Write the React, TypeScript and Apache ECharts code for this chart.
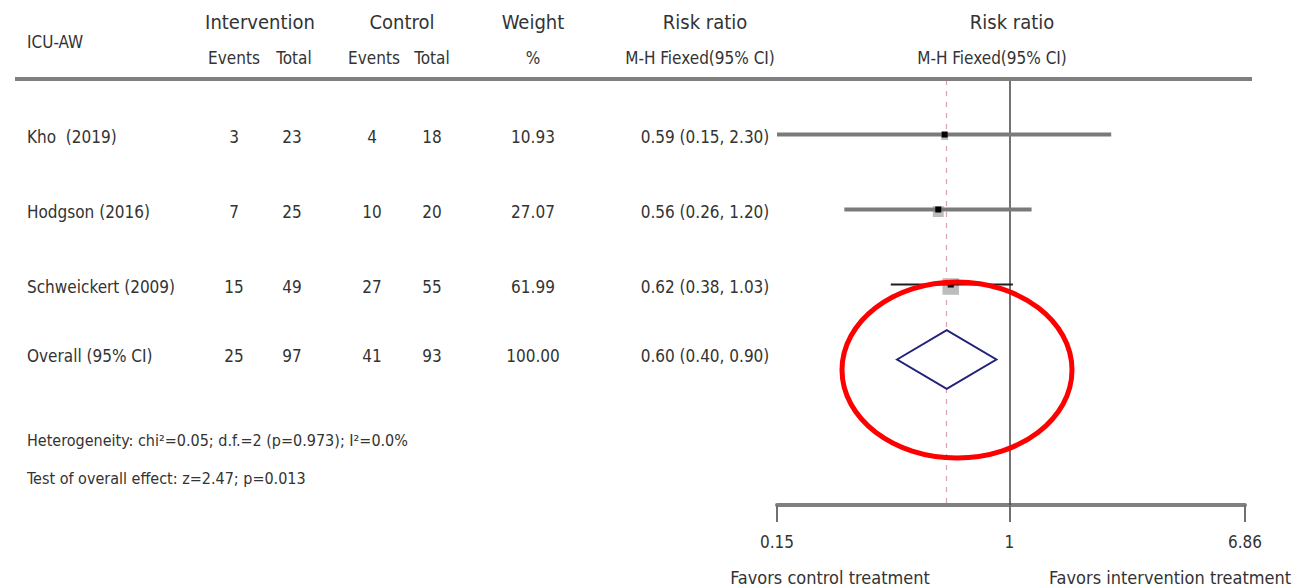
import React, { useEffect, useRef } from "react";
import * as echarts from "echarts";

// ---------- data ----------
const studies = ["Kho  (2019)", "Hodgson (2016)", "Schweickert (2009)"];
const intEvents = [3, 7, 15];
const intTotal = [23, 25, 49];
const ctrlEvents = [4, 10, 27];
const ctrlTotal = [18, 20, 55];
const weights = [10.93, 27.07, 61.99];
const riskRatio = [0.59, 0.56, 0.62];
const ciLower = [0.15, 0.26, 0.38];
const ciUpper = [2.3, 1.2, 1.03];

const overallLabel = "Overall (95% CI)";
const overallIntEvents = 25;
const overallIntTotal = 97;
const overallCtrlEvents = 41;
const overallCtrlTotal = 93;
const overallWeight = 100.0;
const overallRR = 0.6;
const overallLower = 0.4;
const overallUpper = 0.9;

const xTicks = [0.15, 1, 6.86];
const xTickLabels = ["0.15", "1", "6.86"];

const heterogeneityText = "Heterogeneity: chi²=0.05; d.f.=2 (p=0.973); I²=0.0%";
const overallEffectText = "Test of overall effect: z=2.47; p=0.013";
const favorsLeft = "Favors control treatment";
const favorsRight = "Favors intervention treatment";

// ---------- styles / layout ----------
const FONT = "'Liberation Sans Narrow', 'Arial Narrow', 'DejaVu Sans Condensed', 'Liberation Sans', sans-serif";
const TXT = "#333333";
const ciLineColors = ["#7a7a7a", "#7a7a7a", "#1e1e1e"];
const ciLineWidths = [4, 4, 2];
const colX = [234, 292, 372, 432, 533, 705];

function fmt2(v: number) {
  return v.toFixed(2);
}

export default function App() {
  const ref = useRef<HTMLDivElement>(null);

  useEffect(() => {
    document.body.style.margin = "0";
    if (!ref.current) return;
    const chart = echarts.init(ref.current, null, { renderer: "svg" });

    const tableRows = studies.map((s, i) => [
      s,
      String(intEvents[i]),
      String(intTotal[i]),
      String(ctrlEvents[i]),
      String(ctrlTotal[i]),
      fmt2(weights[i]),
      `${fmt2(riskRatio[i])} (${fmt2(ciLower[i])}, ${fmt2(ciUpper[i])})`,
    ]);
    tableRows.push([
      overallLabel,
      String(overallIntEvents),
      String(overallIntTotal),
      String(overallCtrlEvents),
      String(overallCtrlTotal),
      fmt2(overallWeight),
      `${fmt2(overallRR)} (${fmt2(overallLower)}, ${fmt2(overallUpper)})`,
    ]);

    const tableData = tableRows.map((r, i) => ({ value: [1, i + 1], cells: r }));
    const ciData = studies.map((_, i) => [ciLower[i], ciUpper[i], riskRatio[i], weights[i], i + 1]);
    const diamondData = [[overallLower, overallUpper, overallRR, studies.length + 1]];

    const textStyle = (size: number) => ({
      fontFamily: FONT,
      fontSize: size,
      fill: TXT,
    });

    const headerTexts: any[] = [
      { t: "ICU-AW", x: 27, y: 42, a: "left", s: 17 },
      { t: "Intervention", x: 260, y: 22, a: "center", s: 20 },
      { t: "Control", x: 402, y: 22, a: "center", s: 20 },
      { t: "Weight", x: 533, y: 22, a: "center", s: 20 },
      { t: "Risk ratio", x: 705, y: 22, a: "center", s: 20 },
      { t: "Risk ratio", x: 1012, y: 22, a: "center", s: 20 },
      { t: "Events", x: 234, y: 58, a: "center", s: 17 },
      { t: "Total", x: 294, y: 58, a: "center", s: 17 },
      { t: "Events", x: 374, y: 58, a: "center", s: 17 },
      { t: "Total", x: 432, y: 58, a: "center", s: 17 },
      { t: "%", x: 533, y: 58, a: "center", s: 17 },
      { t: "M-H Fiexed(95% CI)", x: 700, y: 58, a: "center", s: 17 },
      { t: "M-H Fiexed(95% CI)", x: 992, y: 58, a: "center", s: 17 },
      { t: heterogeneityText, x: 27, y: 440, a: "left", s: 16 },
      { t: overallEffectText, x: 27, y: 478, a: "left", s: 16 },
      { t: favorsLeft, x: 830, y: 577, a: "center", s: 18 },
      { t: favorsRight, x: 1170, y: 577, a: "center", s: 18 },
    ].map((h) => ({
      type: "text",
      x: h.x,
      y: h.y,
      style: { ...textStyle(h.s), text: h.t, textAlign: h.a, textVerticalAlign: "middle" },
    }));

    const option: any = {
      animation: false,
      backgroundColor: "#ffffff",
      grid: { left: 777, right: 54, top: 80, bottom: 81, containLabel: false },
      xAxis: {
        type: "log",
        logBase: 10,
        min: 0.15,
        max: 6.86,
        position: "bottom",
        splitLine: { show: false },
        axisLine: { show: true, lineStyle: { color: "#808080", width: 4 } },
        axisTick: {
          show: true,
          customValues: xTicks,
          length: 17,
          lineStyle: { color: "#707070", width: 2 },
        },
        axisLabel: {
          show: true,
          customValues: xTicks,
          margin: 28,
          fontFamily: FONT,
          fontSize: 17,
          color: TXT,
          formatter: (v: number) => {
            let best = 0;
            xTicks.forEach((t, i) => {
              if (Math.abs(t - v) < Math.abs(xTicks[best] - v)) best = i;
            });
            return xTickLabels[best];
          },
        },
      },
      yAxis: {
        type: "value",
        inverse: true,
        min: 0.273,
        max: 5.94,
        show: false,
      },
      graphic: [
        {
          type: "line",
          shape: { x1: 15, y1: 79, x2: 1252, y2: 79 },
          style: { stroke: "#808080", lineWidth: 4 },
          z: 10,
        },
        ...headerTexts,
        {
          type: "ellipse",
          shape: { cx: 957, cy: 370, rx: 115, ry: 88 },
          style: { stroke: "#ff0000", lineWidth: 5, fill: "none" },
          z: 100,
        },
      ],
      series: [
        {
          type: "custom",
          name: "table",
          silent: true,
          clip: false,
          data: tableData,
          renderItem: (params: any, api: any) => {
            const row = api.value(1);
            const y = api.coord([1, row])[1] + (row === studies.length + 1 ? -4 : 2);
            const cells = tableRows[params.dataIndex];
            const children: any[] = [
              {
                type: "text",
                x: 27,
                y,
                style: { ...textStyle(17), text: cells[0], textAlign: "left", textVerticalAlign: "middle" },
              },
            ];
            for (let c = 1; c < cells.length; c++) {
              children.push({
                type: "text",
                x: colX[c - 1],
                y,
                style: { ...textStyle(17), text: cells[c], textAlign: "center", textVerticalAlign: "middle" },
              });
            }
            return { type: "group", children };
          },
        },
        {
          type: "custom",
          name: "studies",
          silent: true,
          clip: false,
          data: ciData,
          renderItem: (params: any, api: any) => {
            const i = params.dataIndex;
            const row = api.value(4);
            const p0 = api.coord([api.value(0), row]);
            const p1 = api.coord([api.value(1), row]);
            const pc = api.coord([api.value(2), row]);
            const box = Math.sqrt(api.value(3)) * 2.1;
            return {
              type: "group",
              children: [
                {
                  type: "rect",
                  shape: { x: pc[0] - box / 2, y: pc[1] - box / 2 + 2, width: box, height: box },
                  style: { fill: "#bdbdbd" },
                },
                {
                  type: "line",
                  shape: { x1: p0[0], y1: p0[1], x2: p1[0], y2: p1[1] },
                  style: { stroke: ciLineColors[i], lineWidth: ciLineWidths[i] },
                },
                {
                  type: "rect",
                  shape: { x: pc[0] - 3, y: pc[1] - 3, width: 6, height: 6 },
                  style: { fill: "#000000" },
                },
              ],
            };
          },
        },
        {
          type: "custom",
          name: "overall",
          silent: true,
          clip: false,
          data: diamondData,
          renderItem: (params: any, api: any) => {
            const row = api.value(3);
            const half = 0.39;
            const pl = api.coord([api.value(0), row]);
            const pr = api.coord([api.value(1), row]);
            const pt = api.coord([api.value(2), row - half]);
            const pb = api.coord([api.value(2), row + half]);
            return {
              type: "polygon",
              shape: { points: [pl, pt, pr, pb] },
              style: { fill: "#ffffff", stroke: "#22227a", lineWidth: 2 },
            };
          },
          markLine: {
            silent: true,
            symbol: "none",
            label: { show: false },
            z: 1,
            data: [
              { xAxis: 1, lineStyle: { color: "#444444", width: 1.5, type: "solid" } },
              { xAxis: overallRR, lineStyle: { color: "#d8a0b0", width: 1.2, type: [5, 6] } },
            ],
          },
        },
      ],
    };

    chart.setOption(option);
    return () => chart.dispose();
  }, []);

  return <div ref={ref} style={{ width: 1299, height: 586 }} />;
}
